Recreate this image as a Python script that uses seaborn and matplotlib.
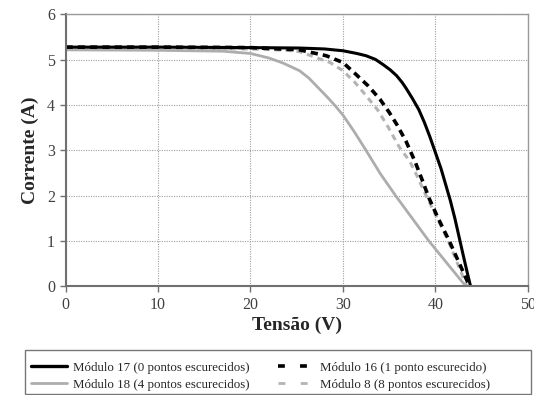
import numpy as np
import pandas as pd
import matplotlib
matplotlib.use("Agg")
import matplotlib.pyplot as plt
from matplotlib.lines import Line2D
from matplotlib.patches import Rectangle
import seaborn as sns

sns.set_style("white")
plt.rcParams['font.family'] = ['Liberation Serif', 'DejaVu Serif']

# Module 17 (0 shaded points)
v17 = [0, 10, 20, 25.3, 28, 30, 31.5, 32.5, 33.5, 34.3, 35.1, 35.8, 36.4, 36.8, 37.5, 38.2, 38.8, 39.4,
       40.0, 40.6, 41.1, 41.6, 42.1, 42.6, 43.1, 43.5, 43.8]
i17 = [5.28, 5.28, 5.27, 5.26, 5.24, 5.20, 5.14, 5.09, 5.01, 4.90, 4.78, 4.65, 4.50, 4.38, 4.15, 3.90,
       3.62, 3.30, 2.95, 2.60, 2.25, 1.90, 1.50, 1.05, 0.60, 0.25, 0.0]
# Module 16 (1 shaded point)
v16 = [0, 10, 20, 25.3, 28.2, 30, 31.4, 32.7, 34.0, 35.0, 35.8, 36.8, 37.8, 38.6, 39.3, 40.3, 41.5, 42.6, 43.7]
i16 = [5.28, 5.28, 5.27, 5.22, 5.09, 4.94, 4.68, 4.43, 4.13, 3.84, 3.58, 3.21, 2.75, 2.33, 1.95, 1.50, 1.00, 0.50, 0.0]
# Module 18 (4 shaded points)
v18 = [0, 10, 17, 20, 22, 23.5, 25.3, 26.3, 27.2, 28.2, 29.1, 30.0, 31.2, 32.5, 34.0, 35.7, 37.5, 39.3, 41.3, 43.3]
i18 = [5.22, 5.21, 5.19, 5.14, 5.04, 4.93, 4.76, 4.60, 4.41, 4.20, 4.00, 3.78, 3.42, 3.00, 2.50, 2.00, 1.50,
       1.00, 0.50, 0.0]
# Module 8 (8 shaded points)
v8 = [0, 10, 20, 24, 25.3, 28.6, 30, 31.3, 32.5, 33.8, 34.9, 36.1, 37.2, 38.1, 39.0, 40.2, 41.4, 42.4, 43.4]
i8 = [5.25, 5.25, 5.24, 5.21, 5.18, 4.94, 4.76, 4.50, 4.21, 3.88, 3.51, 3.07, 2.77, 2.40, 2.00, 1.50, 1.00, 0.50, 0.0]

labels = ["Módulo 17 (0 pontos escurecidos)", "Módulo 16 (1 ponto escurecido)",
          "Módulo 18 (4 pontos escurecidos)", "Módulo 8 (8 pontos escurecidos)"]

df = pd.concat([
    pd.DataFrame({"V": v17, "I": i17, "s": labels[0]}),
    pd.DataFrame({"V": v16, "I": i16, "s": labels[1]}),
    pd.DataFrame({"V": v18, "I": i18, "s": labels[2]}),
    pd.DataFrame({"V": v8, "I": i8, "s": labels[3]}),
])

fig = plt.figure(figsize=(5.34, 3.95), dpi=100)
ax = fig.add_axes([0.1227, 0.2747, 0.866, 0.6886])

styles = {
    labels[0]: dict(color="black", ls="-", lw=2.2),
    labels[1]: dict(color="black", ls=(0, (2.0, 1.4)), lw=2.6),
    labels[2]: dict(color="#adadad", ls="-", lw=2.0),
    labels[3]: dict(color="#b4b4b4", ls=(0, (2.0, 1.6)), lw=2.2),
}
for lab in [labels[2], labels[3], labels[1], labels[0]]:
    sub = df[df.s == lab]
    sns.lineplot(data=sub, x="V", y="I", ax=ax, sort=False, estimator=None,
                 color=styles[lab]["color"], linestyle=styles[lab]["ls"],
                 linewidth=styles[lab]["lw"])

ax.set_xlim(0, 50)
ax.set_ylim(0, 6)
ax.set_xticks(range(0, 51, 10))
ax.set_yticks(range(0, 7))
ax.grid(True, color="#a0a0a0", linestyle=(0, (1, 1.2)), linewidth=0.8)
for sp in ax.spines.values():
    sp.set_color("#9a9a9a")
    sp.set_linewidth(1.0)
ax.spines['left'].set_color("#707070")
ax.spines['bottom'].set_color("#707070")
ax.spines['left'].set_linewidth(1.5)
ax.spines['bottom'].set_linewidth(1.5)
ax.tick_params(axis='both', labelsize=11.5, colors="#707070", labelcolor="#404040",
               length=4, direction='out', left=True, bottom=True, width=1.0)
ax.set_xlabel("Tensão (V)", fontsize=14, fontweight="bold", labelpad=3)
ax.set_ylabel("Corrente (A)", fontsize=14, fontweight="bold", labelpad=6)
if ax.get_legend():
    ax.get_legend().remove()

h17 = Line2D([], [], color="black", lw=2.4, ls="-")
h18 = Line2D([], [], color="#adadad", lw=2.0, ls="-")
h16 = Line2D([], [], color="black", lw=2.6, ls=(0, (1.9, 4.2, 1.9, 20)))
h8 = Line2D([], [], color="#b4b4b4", lw=2.0, ls=(0, (2.5, 5.5, 2.5, 25)))
leg = fig.legend([h17, h18, h16, h8], [labels[0], labels[2], labels[1], labels[3]],
                 loc="upper left", bbox_to_anchor=(0.0468, 0.0987), ncol=2,
                 fontsize=9.3, frameon=False,
                 handlelength=2.8, columnspacing=2.15, labelspacing=0.37,
                 borderpad=0.45, handletextpad=0.5, borderaxespad=0.0)

fig.patches.append(Rectangle((25 / 534, 1 / 395), 506 / 534, 44 / 395,
                             transform=fig.transFigure, fill=False,
                             edgecolor="#777777", linewidth=1.0))

fig.savefig("out.png", dpi=100)
